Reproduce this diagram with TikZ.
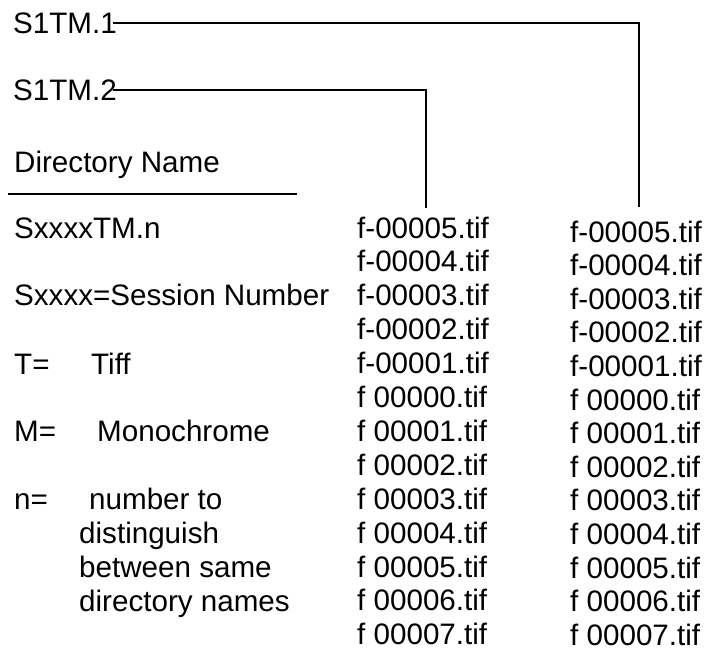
\documentclass[tikz,border=0pt]{standalone}
\usepackage{fontspec}
\setmainfont{Liberation Sans}
\usetikzlibrary{positioning, calc}

\begin{document}
\begin{tikzpicture}[
    x=1pt, y=-1pt,
    label/.style={inner sep=0pt, anchor=base west, font=\fontsize{29.6}{34}\selectfont},
    file/.style={label},
    link/.style={line width=1.8pt}
]
\useasboundingbox (0,0) rectangle (705,654);

% directory names at the top
\node[label] (s1tm1) at (13,33) {S1TM.1};
\node[label] (s1tm2) at (13,100) {S1TM.2};
\node[label] (dirname) at (14,172) {Directory Name};
\draw[link] (8,194) -- (297,194);

% key to the name
\node[label] (key) at (14,238) {SxxxxTM.n};
\node[label] (keys) at (14,305) {Sxxxx=Session Number};
\node[label] (keyt) at (14,374) {T=};
\node[label] (keytiff) at (91,374) {Tiff};
\node[label] (keym) at (14,441) {M=};
\node[label] (keymono) at (97,441) {Monochrome};
\node[label] (keyn) at (14,509) {n=};
\node[label] (keyn1) at (89,509) {number to};
\node[label] (keyn2) at (79,543) {distinguish};
\node[label] (keyn3) at (79,577) {between same};
\node[label] (keyn4) at (79,611) {directory names};

% file lists of both directories
\foreach \i in {0,...,12} {
    \ifnum\i<5
        \pgfmathtruncatemacro{\num}{5-\i}
        \def\fname{f-0000\num.tif}
    \else
        \pgfmathtruncatemacro{\num}{\i-5}
        \def\fname{f 0000\num.tif}
    \fi
    \node[file] (l\i) at (357,238+33.9*\i) {\fname};
    \node[file] (r\i) at (570,242+33.6*\i) {\fname};
}

\draw[link, shorten <=-4pt, shorten >=13pt] (s1tm1.east) -| ([xshift=3pt]r0.north);
\draw[link, shorten <=-4pt, shorten >=8pt] (s1tm2.east) -| ([xshift=3pt]l0.north);

\end{tikzpicture}
\end{document}
